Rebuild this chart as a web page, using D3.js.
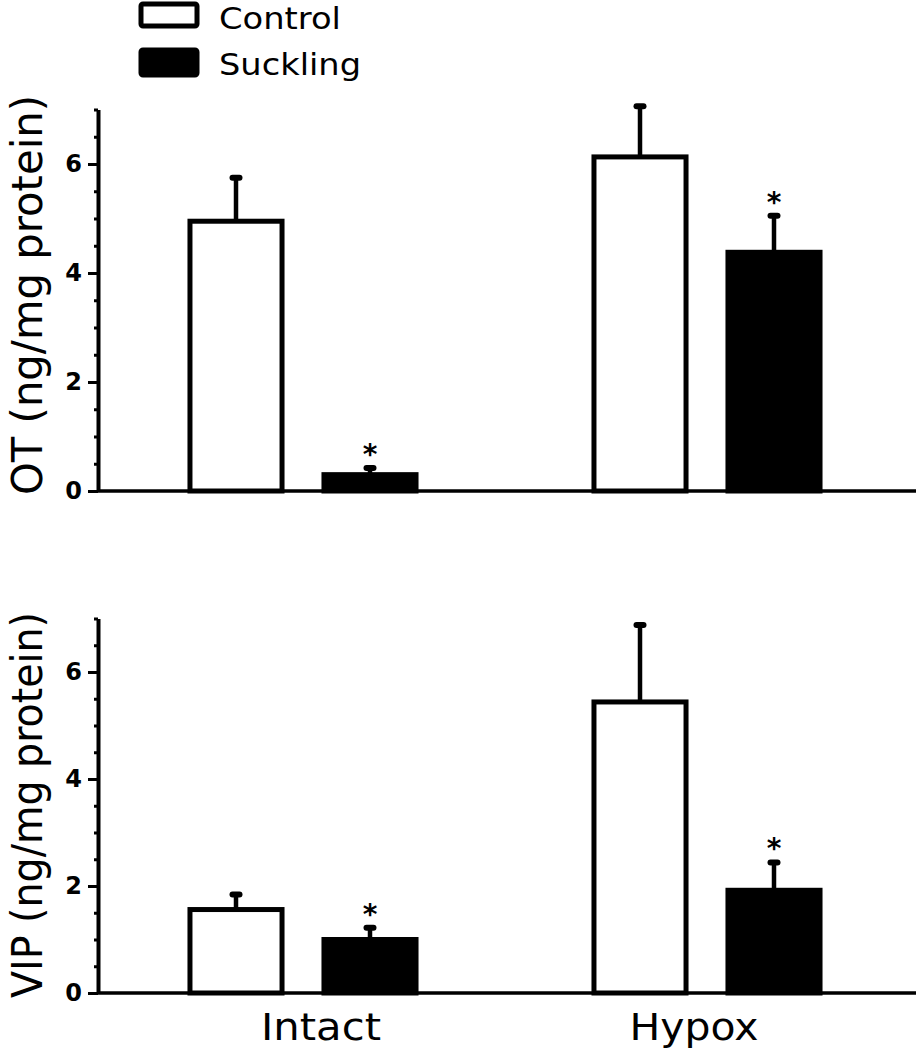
<!DOCTYPE html>
<html><head><meta charset="utf-8">
<script src="https://cdn.jsdelivr.net/npm/d3@7"></script>
<style>body{margin:0;background:#fff}</style>
</head><body>
<svg id="c" width="916" height="1050"></svg>
<script>
const groups = ["Intact", "Hypox"];
const series = ["Control", "Suckling"];
// OT panel
const otMean = [[4.95, 0.30], [6.13, 4.38]];
const otErr  = [[0.80, 0.12], [0.93, 0.67]];
const otSig  = [[false, true], [false, true]];
// VIP panel
const vipMean = [[1.56, 1.00], [5.44, 1.92]];
const vipErr  = [[0.28, 0.22], [1.44, 0.52]];
const vipSig  = [[false, true], [false, true]];
const majorTicks = [0, 2, 4, 6];
const minorTicks = d3.range(0, 7.01, 0.5);
const yLabels = ["OT (ng/mg protein)", "VIP (ng/mg protein)"];

const svg = d3.select("#c");
const FONT = "DejaVu Sans, sans-serif";

const x0 = d3.scaleBand().domain(groups).range([101, 909]).padding(0);
const x1 = d3.scaleBand().domain(series).range([0, x0.bandwidth()]).paddingInner(0.313).paddingOuter(0.664);

const panels = [
  {mean: otMean, err: otErr, sig: otSig, y0: 491, y7: 109.5, label: yLabels[0], lc: 295, ll: 400},
  {mean: vipMean, err: vipErr, sig: vipSig, y0: 993, y7: 618.5, label: yLabels[1], lc: 805, ll: 386}
];

panels.forEach(p => {
  const y = d3.scaleLinear().domain([0, 7]).range([p.y0, p.y7]);
  const g = svg.append("g");
  // baseline
  g.append("line").attr("x1", 97).attr("x2", 916).attr("y1", y(0)).attr("y2", y(0))
    .attr("stroke", "#000").attr("stroke-width", 3.5);
  // minor ticks
  const minor = g.append("g").attr("transform", "translate(98,0)")
    .call(d3.axisLeft(y).tickValues(minorTicks).tickSize(4).tickFormat(""));
  minor.select(".domain").remove();
  minor.selectAll("line").attr("stroke-width", 3);
  // major axis
  const ax = g.append("g").attr("transform", "translate(98,0)")
    .call(d3.axisLeft(y).tickValues(majorTicks).tickSize(10).tickSizeOuter(0).tickPadding(6).tickFormat(d3.format("d")));
  ax.select(".domain").attr("stroke-width", 4);
  ax.selectAll("line").attr("stroke-width", 3);
  ax.selectAll("text").attr("font-family", FONT).attr("font-weight", "bold").attr("font-size", 24).attr("fill", "#000");
  // y label
  g.append("text").attr("transform", `translate(42,${p.lc}) rotate(-90)`)
    .attr("text-anchor", "middle").attr("font-family", FONT).attr("font-size", 43)
    .attr("textLength", p.ll).attr("lengthAdjust", "spacingAndGlyphs")
    .text(p.label);

  groups.forEach((gr, gi) => {
    series.forEach((s, si) => {
      const v = p.mean[gi][si], e = p.err[gi][si];
      const bx = x0(gr) + x1(s), bw = x1.bandwidth();
      const cx = bx + bw / 2;
      // error bar stem
      g.append("line").attr("x1", cx).attr("x2", cx).attr("y1", y(v)).attr("y2", y(v + e))
        .attr("stroke", "#000").attr("stroke-width", 4.5);
      // cap
      g.append("rect").attr("x", cx - 6.5).attr("y", y(v + e) - 3).attr("width", 13).attr("height", 6)
        .attr("rx", 3).attr("fill", "#000");
      // bar
      g.append("rect").attr("x", bx).attr("y", y(v)).attr("width", bw).attr("height", y(0) - y(v))
        .attr("fill", si === 0 ? "#fff" : "#000").attr("stroke", "#000").attr("stroke-width", 5);
      if (p.sig[gi][si]) {
        g.append("text").attr("x", cx).attr("y", y(v + e) - 4).attr("text-anchor", "middle")
          .attr("font-family", FONT).attr("font-weight", "bold").attr("font-size", 28).text("*");
      }
    });
  });
});

// x labels
const xlOffset = {Intact: 18, Hypox: -13};
const xlLen = {Intact: 120, Hypox: 129};
groups.forEach(gr => {
  svg.append("text").attr("x", x0(gr) + x0.bandwidth() / 2 + xlOffset[gr]).attr("y", 1040).attr("text-anchor", "middle")
    .attr("font-family", FONT).attr("font-size", 38)
    .attr("textLength", xlLen[gr]).attr("lengthAdjust", "spacingAndGlyphs").text(gr);
});

// legend
const leg = svg.append("g");
series.forEach((s, i) => {
  const yy = [4, 50][i];
  leg.append("rect").attr("x", 141).attr("y", yy).attr("width", 56).attr("height", i === 0 ? 22 : 25)
    .attr("fill", i === 0 ? "#fff" : "#000").attr("stroke", "#000").attr("stroke-width", 5).attr("rx", 2);
  leg.append("text").attr("x", 219).attr("y", yy + 25).attr("font-family", FONT).attr("font-size", 30)
    .attr("textLength", i === 0 ? 122 : 142).attr("lengthAdjust", "spacingAndGlyphs").text(s);
});
</script>
</body></html>
